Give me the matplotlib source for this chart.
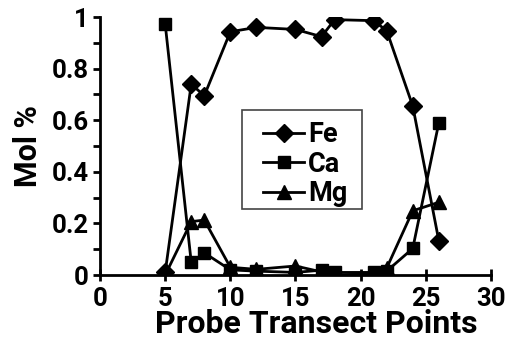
import matplotlib
matplotlib.use("Agg")
import matplotlib.pyplot as plt
from matplotlib.ticker import MultipleLocator
from matplotlib.patches import Rectangle

x = [5, 7, 8, 10, 12, 15, 17, 18, 21, 22, 24, 26]
fe = [0.01, 0.74, 0.695, 0.943, 0.96, 0.952, 0.924, 0.99, 0.986, 0.947, 0.655, 0.133]
ca = [0.973, 0.049, 0.086, 0.02, 0.015, 0.01, 0.019, 0.01, 0.01, 0.015, 0.103, 0.59]
mg = [0.0, 0.207, 0.213, 0.03, 0.022, 0.035, 0.012, 0.0, 0.005, 0.027, 0.249, 0.282]

xticks = [0, 5, 10, 15, 20, 25, 30]
yticks = [0, 0.2, 0.4, 0.6, 0.8, 1.0]
yticklabels = ["0", "0.2", "0.4", "0.6", "0.8", "1"]

plt.rcParams['font.family'] = ['Roboto', 'DejaVu Sans']
plt.rcParams['font.weight'] = 'bold'

fig = plt.figure(figsize=(5.13, 3.41), dpi=100)
ax = fig.add_axes([0.195, 0.1935, 0.762, 0.7565])

ax.plot(x, fe, color='black', lw=2, marker='D', ms=9, label='Fe')
ax.plot(x, ca, color='black', lw=2, marker='s', ms=8, label='Ca')
ax.plot(x, mg, color='black', lw=2, marker='^', ms=10, label='Mg')

ax.set_xlim(0, 30)
ax.set_ylim(0, 1)
ax.set_xticks(xticks)
ax.set_yticks(yticks)
ax.set_yticklabels(yticklabels)
ax.yaxis.set_minor_locator(MultipleLocator(0.1))
for s in ['top', 'right']:
    ax.spines[s].set_visible(False)
for s in ['left', 'bottom']:
    ax.spines[s].set_linewidth(2)
ax.tick_params(axis='both', which='both', direction='out', width=2, length=5, labelsize=18.5, pad=3)
ax.tick_params(axis='x', which='major', direction='inout', length=9, pad=4)
for lab in ax.get_xticklabels() + ax.get_yticklabels():
    lab.set_fontweight('bold')

ax.set_xlabel('Probe Transect Points', fontsize=23, fontweight='bold')
ax.xaxis.set_label_coords(0.553, -0.13)
ax.set_ylabel('Mol %', fontsize=22, fontweight='bold', labelpad=6)

# legend frame drawn separately (wide horizontal padding as in reference)
ax.add_patch(Rectangle((0.363, 0.256), 0.307, 0.384, transform=ax.transAxes,
                       facecolor='white', edgecolor='#444444', lw=1.2, zorder=4))
leg = ax.legend(loc='upper left', bbox_to_anchor=(0.418, 0.597), frameon=False,
                prop={'size': 19.5, 'weight': 'bold'}, handlelength=1.5, handletextpad=0.15,
                borderpad=0, labelspacing=0.1, borderaxespad=0)
leg.set_zorder(5)

fig.savefig('out.png', dpi=100)
